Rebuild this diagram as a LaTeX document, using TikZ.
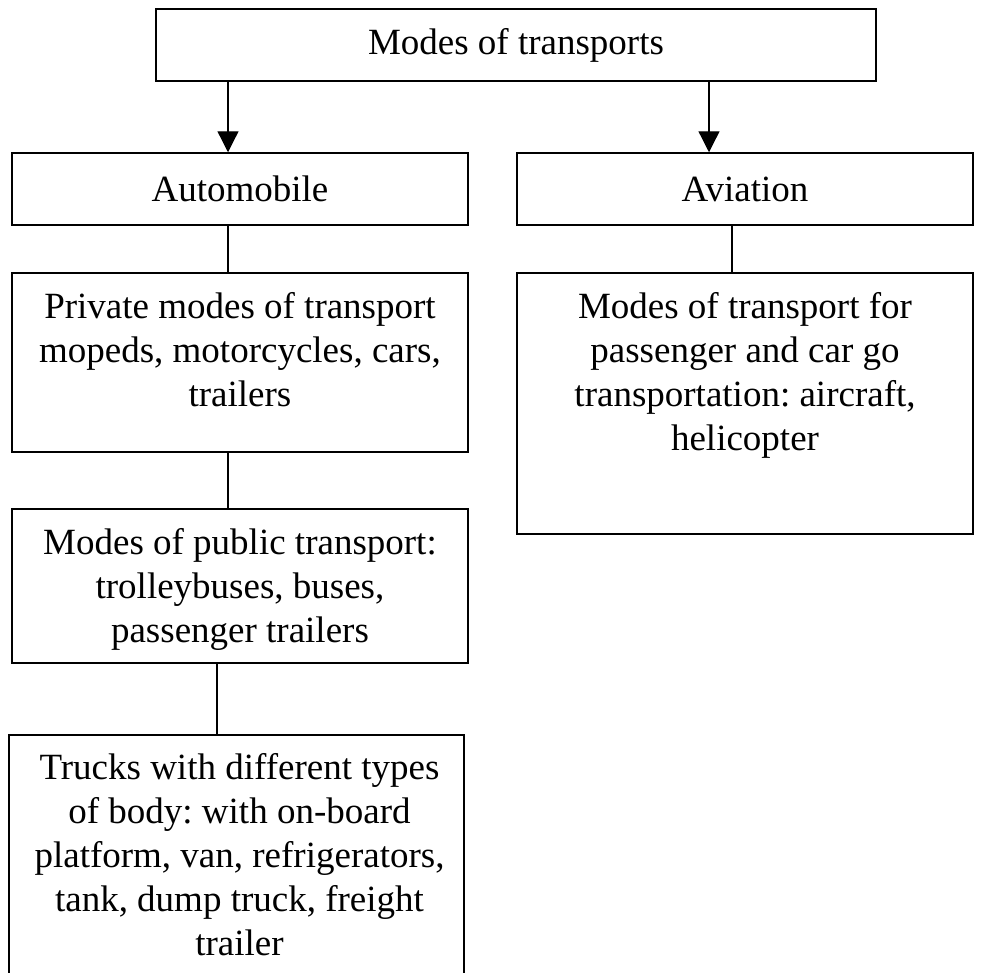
\documentclass[tikz,border=0pt]{standalone}
\usepackage{fontspec}
\setmainfont{Liberation Serif}
\usetikzlibrary{arrows.meta}
\frenchspacing
\begin{document}
\begin{tikzpicture}[x=1pt,y=-1pt,
  box/.style={draw, line width=1.5pt, inner sep=0pt, anchor=center, font=\fontsize{37}{44}\selectfont},
  txt/.style={font=\fontsize{37}{44}\selectfont, align=center, inner sep=0pt, anchor=north},
  arr/.style={line width=1.3pt, -{Triangle[length=21pt,width=21pt]}},
  con/.style={line width=1.3pt}]
\useasboundingbox (0,0) rectangle (984,972);
\node[box, minimum width=720pt, minimum height=72pt] (top) at (516,45) {Modes of transports};
\node[box, minimum width=456pt, minimum height=72pt] (auto) at (240,189) {Automobile};
\node[box, minimum width=456pt, minimum height=72pt] (avia) at (745,189) {Aviation};
\node[box, minimum width=456pt, minimum height=179pt] (priv) at (240,362.5) {};
\node[box, minimum width=456pt, minimum height=261pt] (avsub) at (745,403.5) {};
\node[box, minimum width=456pt, minimum height=154pt] (pub) at (240,586) {};
\node[box, minimum width=455pt, minimum height=245pt] (truck) at (236.5,857.5) {};
\node[txt] (privt) at ([yshift=-20pt]priv.north) {Private modes of transport\\ mopeds, motorcycles, cars,\\ trailers};
\node[txt] (avsubt) at ([yshift=-20pt]avsub.north) {Modes of transport for\\ passenger and car go\\ transportation: aircraft,\\ helicopter};
\node[txt] (pubt) at ([yshift=-20pt]pub.north) {Modes of public transport:\\ trolleybuses, buses,\\ passenger trailers};
\node[txt] (truckt) at ([xshift=3pt,yshift=-19pt]truck.north) {Trucks with different types\\ of body: with on-board\\ platform, van, refrigerators,\\ tank, dump truck, freight\\ trailer};
\draw[arr] ([xshift=-12pt]auto.north |- top.south) -- ([xshift=-12pt]auto.north);
\draw[arr] ([xshift=-36pt]avia.north |- top.south) -- ([xshift=-36pt]avia.north);
\draw[con] ([xshift=-12pt]auto.south) -- ([xshift=-12pt]priv.north);
\draw[con] ([xshift=-13pt]avia.south) -- ([xshift=-13pt]avsub.north);
\draw[con] ([xshift=-12pt]priv.south) -- ([xshift=-12pt]pub.north);
\draw[con] ([xshift=-23pt]pub.south) -- ([xshift=-23pt]pub.south |- truck.north);
\end{tikzpicture}
\end{document}
